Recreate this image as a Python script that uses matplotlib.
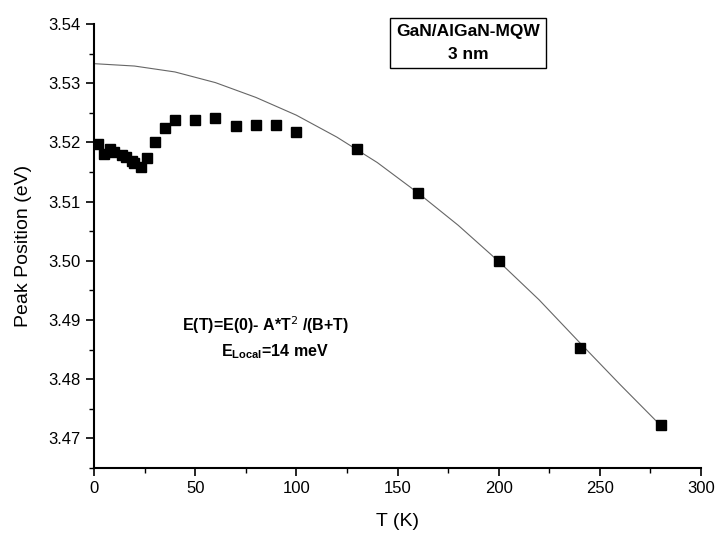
import matplotlib
matplotlib.use("Agg")
import matplotlib.pyplot as plt
from matplotlib.ticker import MultipleLocator, FormatStrFormatter

plt.rcParams['font.family'] = ['Liberation Sans', 'DejaVu Sans']

# Measured peak positions
temps = [2, 5, 8, 10, 14, 16, 19, 20, 23, 26, 30, 35, 40, 50, 60, 70, 80, 90, 100, 130, 160, 200, 240, 280]
peaks = [3.5197, 3.5180, 3.5189, 3.5184, 3.5178, 3.5176, 3.5168, 3.5165, 3.5159, 3.5173,
         3.5200, 3.5225, 3.5238, 3.5238, 3.5242, 3.5227, 3.5230, 3.5230, 3.5218, 3.5189,
         3.5115, 3.4999, 3.4852, 3.4722]

# Fit curve values
fit_t = [0, 20, 40, 60, 80, 100, 120, 140, 160, 180, 200, 220, 240, 260, 280]
fit_e = [3.5333, 3.5329, 3.5319, 3.5301, 3.5276, 3.5246, 3.5209, 3.5166, 3.5115,
         3.5060, 3.4999, 3.4934, 3.4862, 3.4791, 3.4722]

x_ticks = [0, 50, 100, 150, 200, 250, 300]
y_ticks = [3.47, 3.48, 3.49, 3.50, 3.51, 3.52, 3.53, 3.54]

fig = plt.figure(figsize=(7.17, 5.37), dpi=100)
ax = fig.add_axes([94/717, 1 - 468/537, (701-94)/717, (468-24)/537])

ax.plot(fit_t, fit_e, color='#666666', lw=0.8, zorder=2)
ax.plot(temps, peaks, linestyle='none', marker='s', ms=6.5, color='black', zorder=3)

ax.set_xlim(0, 300)
ax.set_ylim(3.465, 3.54)
ax.set_xticks(x_ticks)
ax.set_yticks(y_ticks)
ax.yaxis.set_major_formatter(FormatStrFormatter('%.2f'))
ax.xaxis.set_minor_locator(MultipleLocator(25))
ax.yaxis.set_minor_locator(MultipleLocator(0.005))

for s in ['top', 'right']:
    ax.spines[s].set_visible(False)
for s in ['left', 'bottom']:
    ax.spines[s].set_linewidth(1.5)

ax.tick_params(axis='both', which='major', direction='out', length=6, width=1.2, labelsize=12)
ax.tick_params(axis='both', which='minor', direction='out', length=3.5, width=1.0)

ax.set_xlabel('T (K)', fontsize=14, labelpad=12)
ax.set_ylabel('Peak Position (eV)', fontsize=14, labelpad=12)

ax.text(0.616, 0.957, 'GaN/AlGaN-MQW\n3 nm', transform=ax.transAxes, ha='center', va='center',
        fontsize=12.5, fontweight='bold', linespacing=1.7,
        bbox=dict(boxstyle='square,pad=0.35', fc='white', ec='black', lw=1.0))

ax.text(0.282, 0.322, 'E(T)=E(0)- A*T$^2$ /(B+T)', transform=ax.transAxes, ha='center', va='center',
        fontsize=11.5, fontweight='bold')
ax.text(0.298, 0.262, r'E$_{\mathregular{Local}}$=14 meV', transform=ax.transAxes, ha='center', va='center',
        fontsize=11.5, fontweight='bold')

fig.savefig('out.png', dpi=100)
